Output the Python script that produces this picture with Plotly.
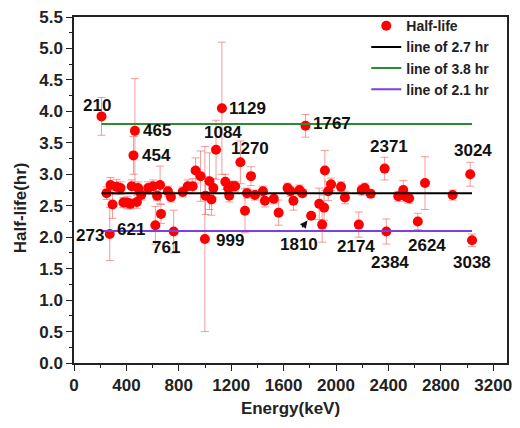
import plotly.graph_objects as go

# ---- data ----
energy_kev = [210, 249, 273, 279, 294, 325, 355, 377, 407, 430, 440, 454, 465, 480, 490,
              513, 566, 604, 621, 634, 657, 664, 717, 740, 761, 830, 868, 906, 928, 966,
              999, 1004, 1034, 1049, 1064, 1084, 1129, 1155, 1177, 1185, 1208, 1230, 1270,
              1305, 1321, 1351, 1381, 1442, 1457, 1525, 1562, 1630, 1653, 1675, 1721, 1743,
              1767, 1810, 1872, 1894, 1909, 1915, 1940, 1962, 2038, 2068, 2174, 2196, 2219,
              2264, 2371, 2384, 2475, 2513, 2536, 2558, 2624, 2679, 2890, 3024, 3038]
half_life = [3.92, 2.70, 2.05, 2.83, 2.52, 2.80, 2.78, 2.55, 2.55, 2.53, 2.81, 3.30, 3.69, 2.56, 2.78,
             2.67, 2.78, 2.81, 2.19, 2.66, 2.83, 2.37, 2.73, 2.64, 2.09, 2.72, 2.81, 2.81, 3.06, 2.97,
             1.97, 2.66, 2.89, 2.60, 2.78, 3.39, 4.05, 2.88, 2.78, 2.66, 2.81, 2.81, 3.19,
             2.42, 2.70, 2.97, 2.67, 2.73, 2.58, 2.61, 2.39, 2.78, 2.73, 2.58, 2.75, 2.70,
             3.77, 2.34, 2.53, 2.20, 2.47, 3.06, 2.73, 2.84, 2.80, 2.63, 2.20, 2.75, 2.78,
             2.69, 3.09, 2.09, 2.65, 2.75, 2.64, 2.62, 2.25, 2.86, 2.67, 3.00, 1.95]
half_life_err = [0.30, 0.10, 0.42, 0.12, 0.22, 0.12, 0.10, 0.08, 0.10, 0.08, 0.10, 0.30, 0.83, 0.10, 0.10,
                 0.08, 0.10, 0.10, 0.30, 0.08, 0.30, 0.15, 0.08, 0.08, 0.34, 0.08, 0.10, 0.12, 0.20, 0.40,
                 1.47, 0.30, 0.45, 0.25, 0.15, 0.47, 1.05, 0.12, 0.10, 0.10, 0.08, 0.08, 0.34,
                 0.35, 0.08, 0.15, 0.08, 0.08, 0.10, 0.08, 0.20, 0.08, 0.08, 0.15, 0.08, 0.06,
                 0.18, 0.05, 0.25, 0.28, 0.20, 0.32, 0.15, 0.10, 0.08, 0.10, 0.20, 0.08, 0.08,
                 0.06, 0.18, 0.20, 0.08, 0.15, 0.08, 0.08, 0.13, 0.42, 0.08, 0.19, 0.10]

ref_lines = [2.7, 3.8, 2.1]
ref_names = ["line of 2.7 hr", "line of 3.8 hr", "line of 2.1 hr"]
ref_colors = ["#000000", "#2e8b2e", "#7b3fe4"]

labeled = [210, 465, 454, 1129, 1084, 1270, 1767, 2371, 3024,
           273, 621, 761, 999, 1810, 2174, 2384, 2624, 3038]
# label offsets in pixels (text centre relative to point centre)
label_shift = {210: (-5, 11), 465: (22, 0), 454: (23, 0), 1129: (26, 0), 1084: (7, 17),
               1270: (10, 14), 1767: (26, 2), 2371: (4, 22), 3024: (3, 24),
               273: (-20, -1), 621: (-24, -4), 761: (-8, -16), 999: (25, -1),
               1810: (-12, -29), 2174: (-3, -22), 2384: (4, -31), 2624: (9, -24), 3038: (0, -22)}

FONT = "Liberation Sans, Arial, sans-serif"

fig = go.Figure()
fig.add_trace(go.Scatter(
    x=energy_kev, y=half_life, mode="markers", name="Half-life",
    marker=dict(color="#ff0000", size=10),
    error_y=dict(type="data", array=half_life_err, color="rgba(235,90,90,0.6)",
                 thickness=1, width=4),
))
xmin, xmax = min(energy_kev), max(energy_kev)
for val, nm, col in zip(ref_lines, ref_names, ref_colors):
    fig.add_trace(go.Scatter(x=[xmin, xmax], y=[val, val], mode="lines", name=nm,
                             line=dict(color=col, width=2)))

ann = []
for e in labeled:
    i = energy_kev.index(e)
    dx, dy = label_shift[e]
    ann.append(dict(x=e, y=half_life[i], text=str(e), showarrow=False,
                    xanchor="center", yanchor="middle", xshift=dx, yshift=dy,
                    font=dict(family=FONT, size=17, color="#111", weight="bold")))
i1810 = energy_kev.index(1810)
ann.append(dict(x=1810, y=half_life[i1810], text="", showarrow=True, ax=-10, ay=13,
                arrowhead=2, arrowsize=1, arrowwidth=1.5, arrowcolor="#111", standoff=6))
ann.append(dict(x=-0.125, y=0.45, xref="paper", yref="paper", text="Half-life(hr)",
                textangle=-90, showarrow=False, xanchor="center", yanchor="middle",
                font=dict(family=FONT, size=17, color="#222", weight="bold")))

axis_common = dict(showline=True, linewidth=1.5, linecolor="#222", mirror=True,
                   ticks="outside", ticklen=6, tickwidth=1.3, tickcolor="#222",
                   showgrid=False, zeroline=False,
                   tickfont=dict(family=FONT, size=17, color="#222", weight="bold"))

fig.update_layout(
    width=520, height=428,
    margin=dict(l=74, r=8, t=11, b=65),
    paper_bgcolor="white", plot_bgcolor="white",
    xaxis=dict(range=[0, 3305], tick0=0, dtick=400,
               minor=dict(dtick=200, ticks="outside", ticklen=3, tickcolor="#222"),
               title=dict(text="Energy(keV)", standoff=8,
                          font=dict(family=FONT, size=17, color="#222", weight="bold")),
               **axis_common),
    yaxis=dict(range=[0, 5.5], tick0=0, dtick=0.5, tickformat=".1f",
               minor=dict(dtick=0.25, ticks="outside", ticklen=3, tickcolor="#222"),
               **axis_common),
    legend=dict(x=0.675, y=1.02, xanchor="left", yanchor="top", bgcolor="rgba(0,0,0,0)",
                font=dict(family=FONT, size=14, color="#222", weight="bold"),
                tracegroupgap=0, itemwidth=30),
    annotations=ann,
    showlegend=True,
)
fig.write_html("out.html", config={"displayModeBar": False},
               post_script="document.body.style.margin='0';document.body.style.overflow='hidden';")
